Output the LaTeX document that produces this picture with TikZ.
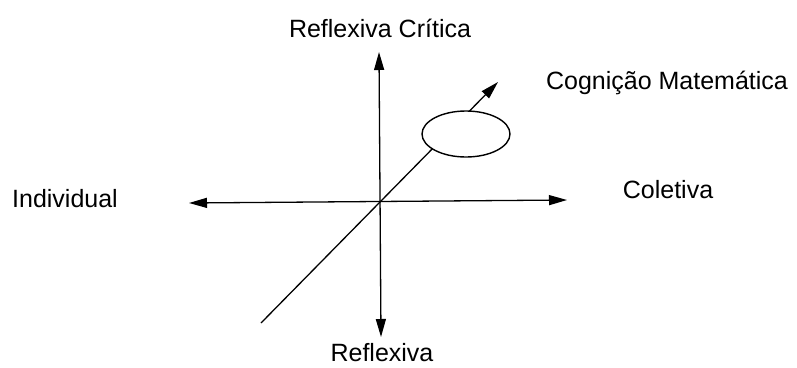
\documentclass[tikz,border=0pt]{standalone}
\usepackage{fontspec}
\setmainfont{Liberation Sans}
\usepackage{tikz}
\usetikzlibrary{arrows.meta, positioning, shapes.geometric}
\tikzset{
  axlabel/.style={anchor=base,inner sep=0pt,font=\fontsize{25}{30}\selectfont},
  axline/.style={line width=1.3pt,black},
  biaxis/.style={axline,{Triangle[length=18pt,width=10pt]}-{Triangle[length=18pt,width=10pt]}},
  diraxis/.style={axline,-{Triangle[length=18pt,width=10pt]}},
  cogoval/.style={ellipse,draw,line width=1.4pt,fill=white,minimum width=88pt,minimum height=46pt,inner sep=0pt},
}

\begin{document}
\begin{tikzpicture}[x=1pt,y=-1pt]
  \useasboundingbox (0,0) rectangle (797,367);
  % axis end points
  \coordinate (tN) at (379,52);
  \coordinate (tS) at (381,337);
  \coordinate (tW) at (189,203);
  \coordinate (tE) at (567,200);
  \coordinate (dSW) at (261,323);
  \coordinate (dNE) at (498,82);
  \draw[biaxis] (tS) -- (tN);
  \draw[biaxis] (tW) -- (tE);
  \draw[diraxis] (dSW) -- (dNE);
  \node[cogoval] (oval) at (466,134) {};
  % labels
  \node[axlabel] (lN) at (380,37) {Reflexiva Crítica};
  \node[axlabel] (lS) at (382,361) {Reflexiva};
  \node[axlabel] (lW) at (65,207) {Individual};
  \node[axlabel] (lE) at (668,198) {Coletiva};
  \node[axlabel] (lD) at (667,89) {Cognição Matemática};
\end{tikzpicture}
\end{document}
